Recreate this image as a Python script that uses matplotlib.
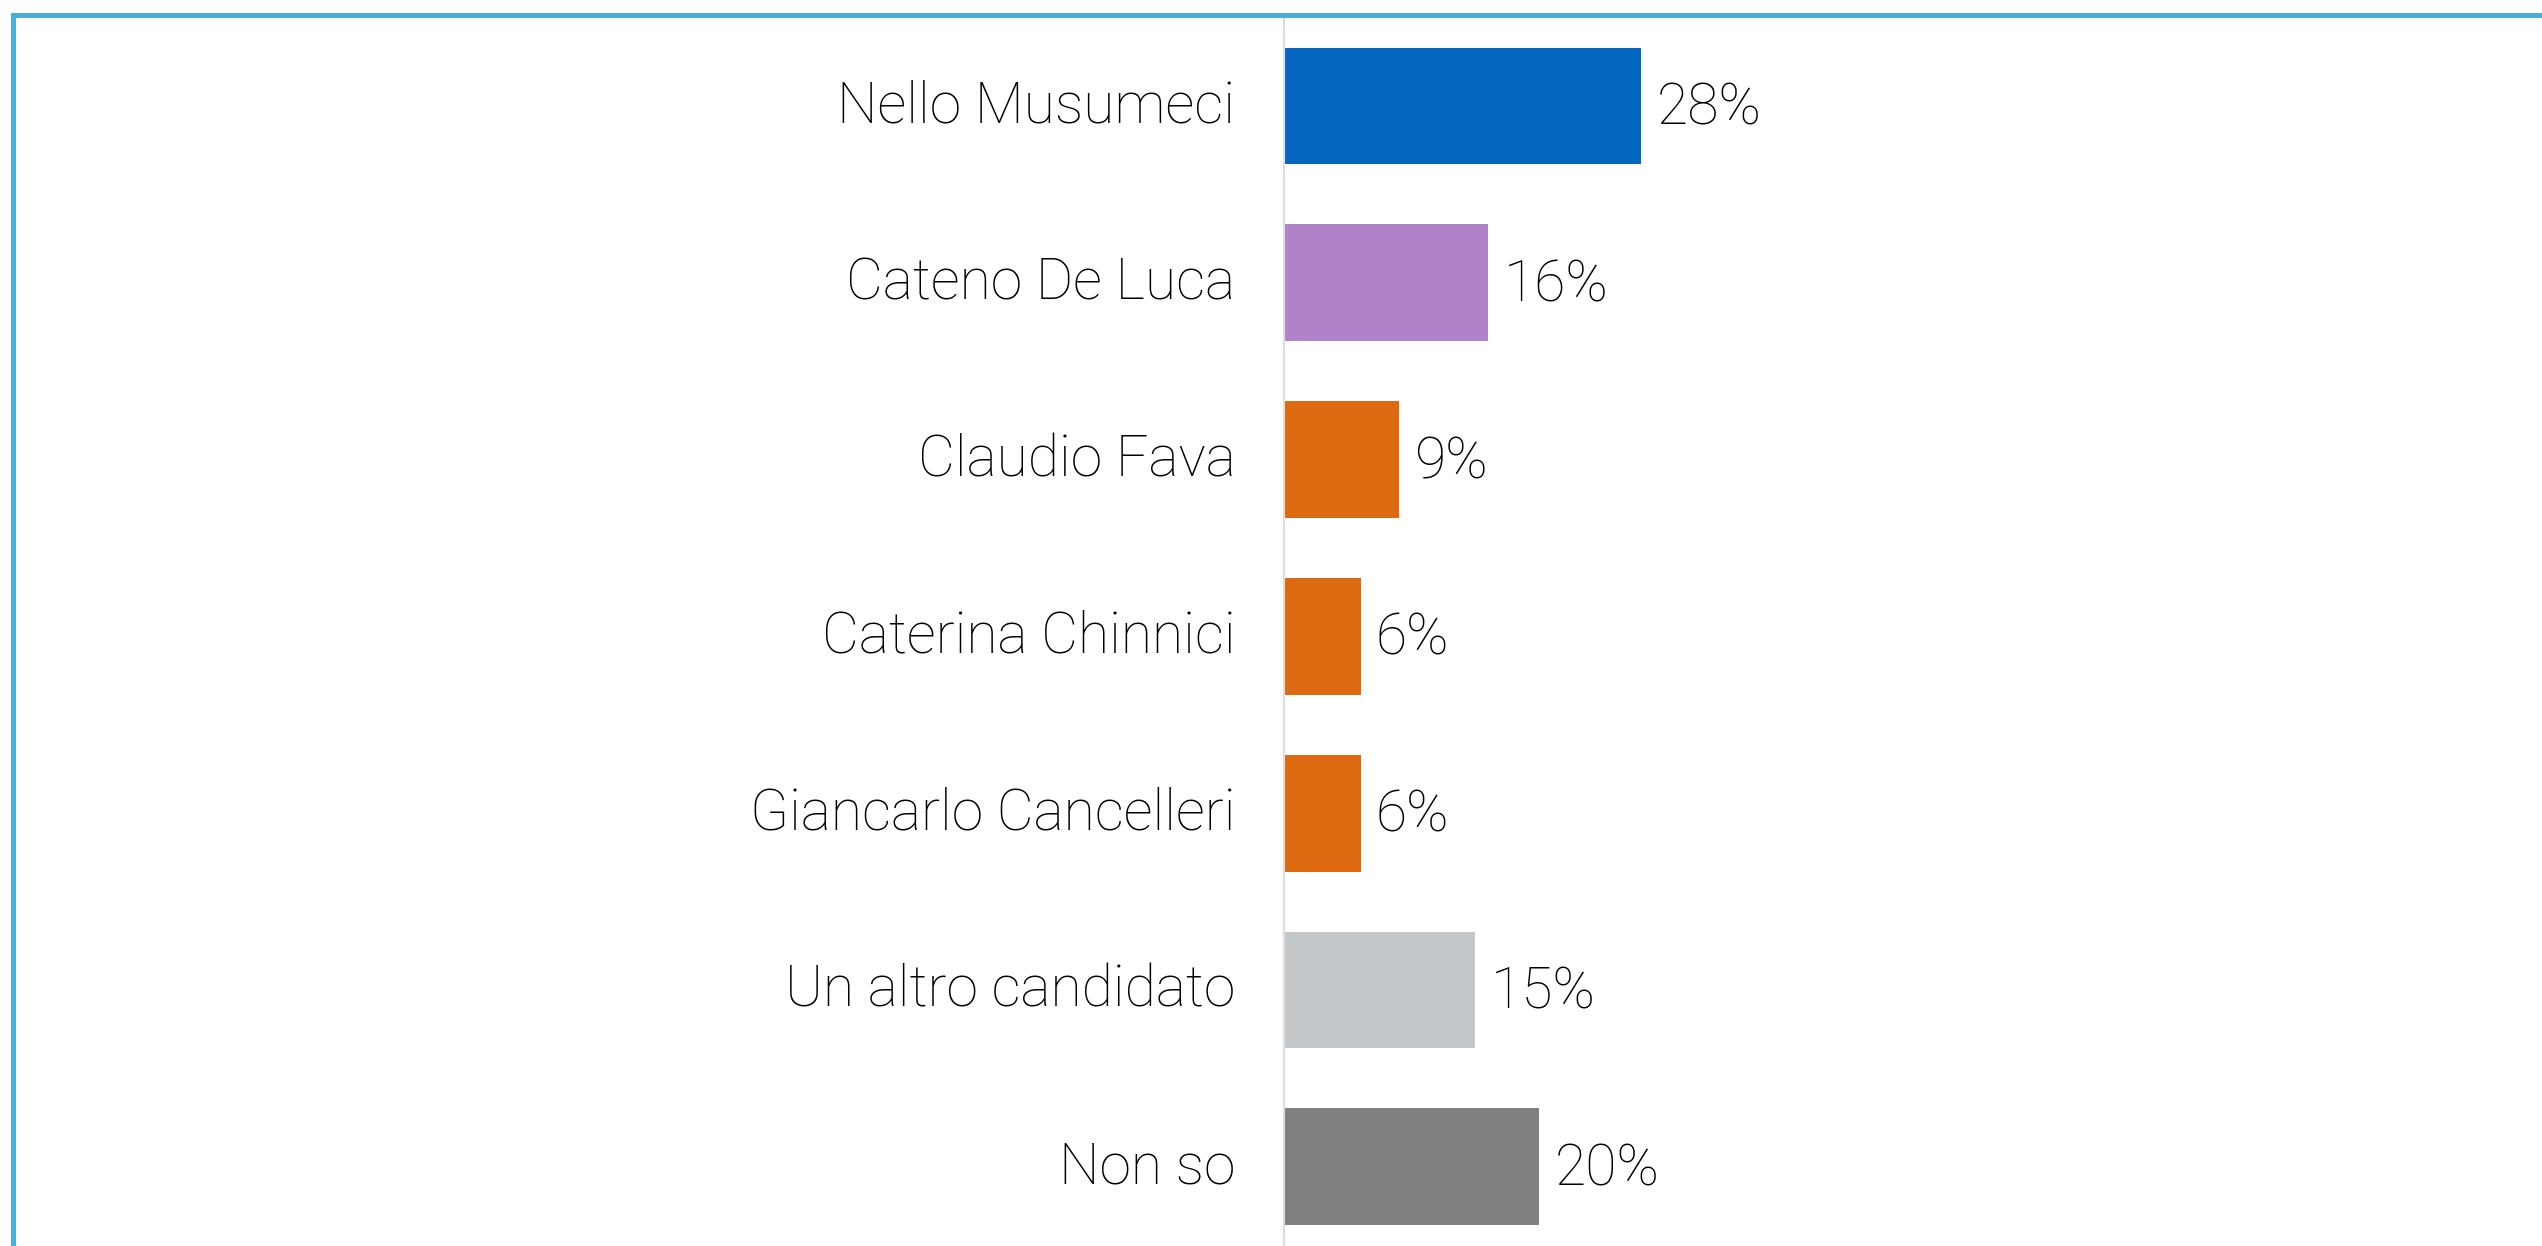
import matplotlib.pyplot as plt
from matplotlib.patches import Rectangle
from matplotlib.transforms import ScaledTranslation

candidati = ['Nello Musumeci', 'Cateno De Luca', 'Claudio Fava', 'Caterina Chinnici',
             'Giancarlo Cancelleri', 'Un altro candidato', 'Non so']
valori = [28, 16, 9, 6, 6, 15, 20]
colori = ['#0566BF', '#AF82C9', '#DD6A11', '#DD6A11', '#DD6A11', '#C5C8CB', '#808080']

W, H, DPI = 2542, 1246, 100
fig = plt.figure(figsize=(W / DPI, H / DPI), dpi=DPI)

# asse: parte da x=1284 px, dal bordo superiore fino in fondo
x0, top = 1284, 17
ax = fig.add_axes([x0 / W, 0, 1 - x0 / W, 1 - top / H])

pos = range(len(candidati))
ax.barh(pos, valori, height=0.66, color=colori)
ax.set_xlim(0, (W - x0) / 12.75)
ax.set_ylim(6.448, -0.503)

ax.set_yticks(list(pos))
ax.set_yticklabels(candidati, fontsize=41, fontfamily='Roboto', fontweight='light')
ax.tick_params(axis='y', length=0, pad=35)
ax.set_xticks([])
su = ScaledTranslation(0, 5 / DPI, fig.dpi_scale_trans)
for t in ax.get_yticklabels():
    t.set_transform(t.get_transform() + su)

for s in ['top', 'right', 'bottom']:
    ax.spines[s].set_visible(False)
ax.spines['left'].set_color('#DDDDDD')
ax.spines['left'].set_linewidth(1.5)

# etichette dei valori
for i, v in zip(pos, valori):
    ax.annotate(f'{v}%', (v, i), xytext=(11, -2.2), textcoords='offset points',
                ha='left', va='center', fontsize=41, fontfamily='Roboto',
                fontweight='light')

# cornice azzurra (tagliata a destra e in basso)
fig.patches.append(Rectangle((12.5 / W, -0.1), 1.2, 1 - 15 / H + 0.1,
                             transform=fig.transFigure, fill=False,
                             edgecolor='#4AAEDD', linewidth=3.6, clip_on=False))

fig.savefig('out.png', dpi=DPI)
